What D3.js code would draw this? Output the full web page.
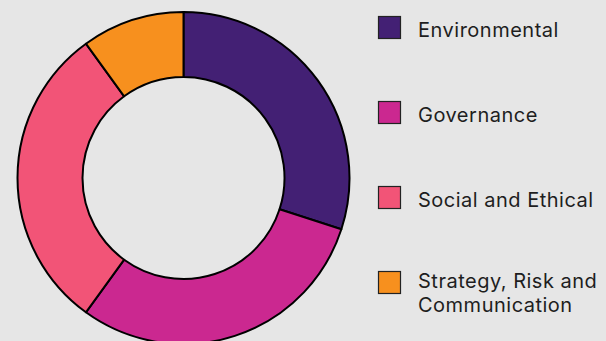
<!DOCTYPE html>
<head>
<meta charset="UTF-8">
<script src="https://d3js.org/d3.v7.min.js"></script>
<style>
  body {
    margin: 0;
    background: #e6e6e6;
    font-family: Inter, "Noto Sans", Arial, sans-serif;
  }
  svg { display: block; }
  .legend text { fill: #1e1e1e; font-size: 20px; letter-spacing: 0.5px; }
</style>
</head>
<body>
<div id="chart"></div>
<script>
  // ESG topic split (share of total)
  var categories = ["Environmental", "Governance", "Social and Ethical", "Strategy, Risk and Communication"];
  var values = [30, 30, 30, 10];
  var colours = ["#432074", "#cb2890", "#f25477", "#f7901e"];
  // legend labels, broken onto lines
  var labelLines = [["Environmental"], ["Governance"], ["Social and Ethical"], ["Strategy, Risk and", "Communication"]];

  var width = 606,
      height = 341,
      cx = 183.5, cy = 178,
      outer = 166, inner = 101;

  var svg = d3.select("#chart").append("svg")
      .attr("width", width)
      .attr("height", height);

  svg.append("rect").attr("width", width).attr("height", height).attr("fill", "#e6e6e6");

  var pie = d3.pie().sort(null).value(function(d) { return d; });
  var arc = d3.arc().innerRadius(inner).outerRadius(outer);

  var g = svg.append("g").attr("transform", "translate(" + cx + "," + cy + ")");

  g.selectAll("path")
      .data(pie(values))
      .enter().append("path")
      .attr("d", arc)
      .attr("fill", function(d, i) { return colours[i]; })
      .attr("stroke", "#000")
      .attr("stroke-width", 2)
      .attr("stroke-linejoin", "round");

  // legend
  var ly = d3.scalePoint().domain(categories).range([27, 282]);

  var legend = svg.append("g").attr("class", "legend")
    .selectAll("g")
    .data(categories)
    .enter().append("g")
      .attr("transform", function(d) { return "translate(378," + ly(d) + ")"; });

  legend.append("rect")
      .attr("x", 0.5).attr("y", -10.5)
      .attr("width", 22).attr("height", 22)
      .attr("fill", function(d, i) { return colours[i]; })
      .attr("stroke", "#222")
      .attr("stroke-width", 1.2);

  legend.append("text")
      .attr("y", function(d, i) { return labelLines[i].length > 1 ? 5.5 : 9.5; })
      .selectAll("tspan")
      .data(function(d, i) { return labelLines[i]; })
      .enter().append("tspan")
        .attr("x", 40)
        .attr("dy", function(d, i) { return i ? 24 : 0; })
        .text(function(d) { return d; });
</script>
</body>
